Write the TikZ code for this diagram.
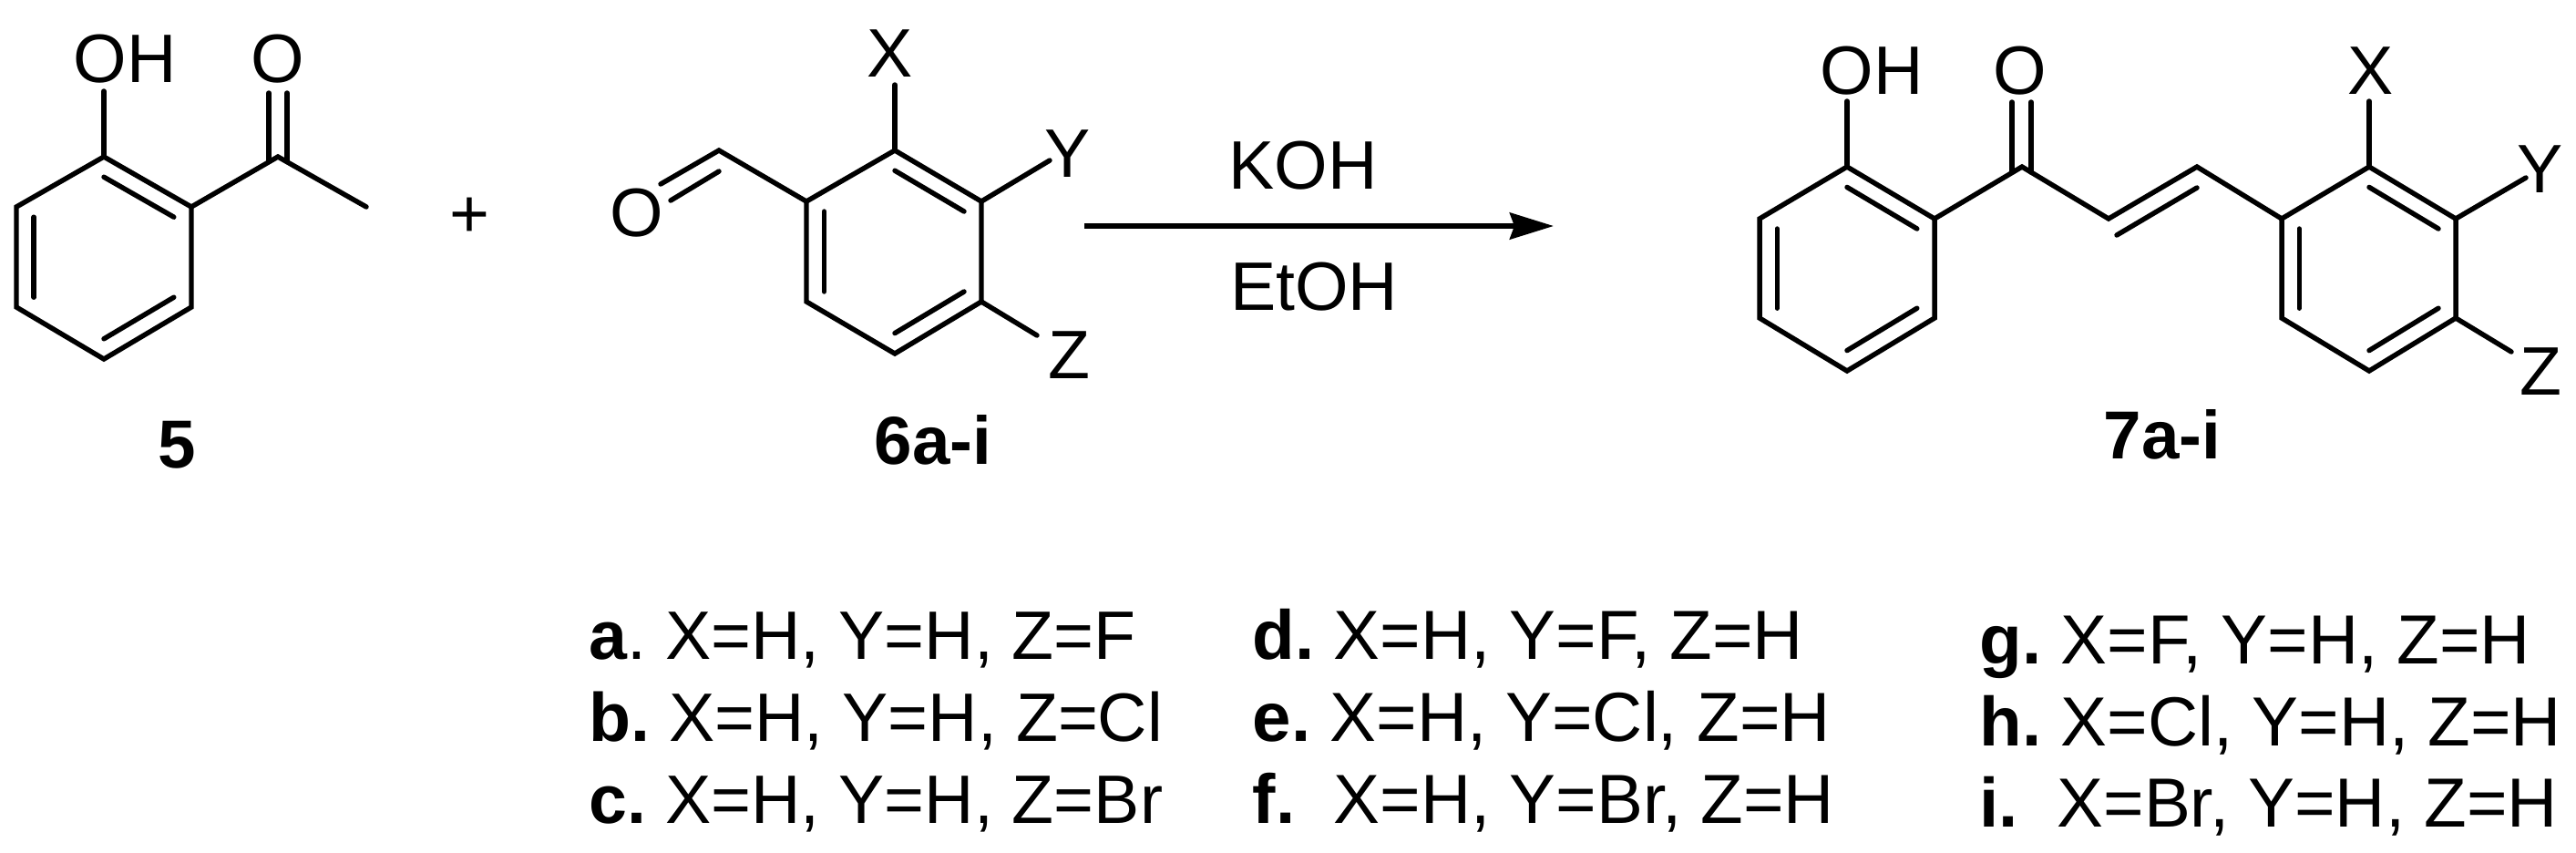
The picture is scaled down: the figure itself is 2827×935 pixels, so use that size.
\documentclass[tikz,border=0pt]{standalone}
\usepackage{fontspec}
\setmainfont{Liberation Sans}
\usetikzlibrary{calc,arrows.meta}
\frenchspacing
\tikzset{
  bond/.style={line width=1.55pt,line cap=round,line join=miter},
  atom/.style={anchor=base,inner sep=0pt,font=\fontsize{21.4}{26}\selectfont},
  cmpd/.style={atom,font=\fontsize{21.2}{26}\selectfont\bfseries},
  entry/.style={anchor=base west,inner sep=0pt,font=\fontsize{21.4}{26}\selectfont},
  entrywide/.style={entry,font=\fontsize{21.7}{26}\selectfont},
  rxnarrow/.style={line width=1.7pt,-{Stealth[length=0.48cm,width=0.29cm,inset=0.05cm]}}
}
\begin{document}
\begin{tikzpicture}
[x=0.01cm,y=-0.01cm]
\useasboundingbox (0,0) rectangle (2827,935);

% ketone 5
\coordinate (ra) at (114,172);
\coordinate (rb) at (210,227);
\coordinate (rc) at (210,337);
\coordinate (rd) at (114,394);
\coordinate (re) at (18,337);
\coordinate (rf) at (18,227);
\coordinate (ro) at (114,283);
\coordinate (aco) at (305,172);
\coordinate (ame) at (402,227);
\coordinate (aol) at (295,102);
\coordinate (aolb) at (295,177);
\coordinate (aor) at (315,102);
\coordinate (aorb) at (315,177);
\coordinate (aoh) at (114,100);
\draw[bond] (ra) -- (rb) -- (rc) -- (rd) -- (re) -- (rf) -- cycle;
\draw[bond] (rb) -- (aco) -- (ame);
\draw[bond] (ra) -- (aoh);
\draw[bond] (aol) -- (aolb);
\draw[bond] (aor) -- (aorb);
\node[atom] (ohA) at (137,90) {OH};
\node[atom] (oA) at (305,90) {O};
\node[atom] (plus) at (515,260) {+};
\node[cmpd] (five) at (194,513) {5};

% aldehyde 6
\coordinate (sa) at (982,165);
\coordinate (sb) at (1077,221);
\coordinate (sc) at (1077,331);
\coordinate (sd) at (982,388);
\coordinate (se) at (885,331);
\coordinate (sf) at (885,221);
\coordinate (so) at (982,276);
\coordinate (bcho) at (789,165);
\coordinate (bol) at (725,202);
\coordinate (boi) at (789,188);
\coordinate (boj) at (736,220);
\coordinate (bx) at (982,93);
\coordinate (by) at (1152,176);
\coordinate (bz) at (1138,368);
\draw[bond] (sa) -- (sb) -- (sc) -- (sd) -- (se) -- (sf) -- cycle;
\draw[bond] (sf) -- (bcho) -- (bol);
\draw[bond] (boi) -- (boj);
\draw[bond] (sa) -- (bx);
\draw[bond] (sb) -- (by);
\draw[bond] (sc) -- (bz);
\node[atom] (oB) at (699,259) {O};
\node[atom] (xB) at (977,84) {X};
\node[atom] (yB) at (1172,194) {Y};
\node[atom] (zB) at (1173,415) {Z};
\node[cmpd] (six) at (1024,509) {6a-i};

% arrow
\coordinate (arrS) at (1190,248);
\coordinate (arrE) at (1705,248);
\draw[rxnarrow] (arrS) -- (arrE);
\node[atom] (koh) at (1430,207) {KOH};
\node[atom] (etoh) at (1442,340) {EtOH};

% chalcone 7
\coordinate (ta) at (2027,183);
\coordinate (tb) at (2123,240);
\coordinate (tc) at (2123,349);
\coordinate (td) at (2027,407);
\coordinate (te) at (1931,349);
\coordinate (tf) at (1931,240);
\coordinate (to) at (2027,295);
\coordinate (ua) at (2600,183);
\coordinate (ub) at (2695,240);
\coordinate (uc) at (2695,349);
\coordinate (ud) at (2600,407);
\coordinate (ue) at (2504,349);
\coordinate (uf) at (2504,240);
\coordinate (uo) at (2600,295);
\coordinate (cco) at (2219,183);
\coordinate (cal) at (2314,240);
\coordinate (cbe) at (2411,183);
\coordinate (cvi) at (2411,206);
\coordinate (cvj) at (2323,258);
\coordinate (col) at (2208,112);
\coordinate (colb) at (2208,189);
\coordinate (cor) at (2229,112);
\coordinate (corb) at (2229,189);
\coordinate (coh) at (2027,111);
\coordinate (cx) at (2600,111);
\coordinate (cy) at (2772,195);
\coordinate (cz) at (2756,386);
\draw[bond] (ta) -- (tb) -- (tc) -- (td) -- (te) -- (tf) -- cycle;
\draw[bond] (ua) -- (ub) -- (uc) -- (ud) -- (ue) -- (uf) -- cycle;
\draw[bond] (tb) -- (cco) -- (cal) -- (cbe) -- (uf);
\draw[bond] (cvi) -- (cvj);
\draw[bond] (col) -- (colb);
\draw[bond] (cor) -- (corb);
\draw[bond] (ta) -- (coh);
\draw[bond] (ua) -- (cx);
\draw[bond] (ub) -- (cy);
\draw[bond] (uc) -- (cz);
\node[atom] (ohC) at (2054,103) {OH};
\node[atom] (oC) at (2217,103) {O};
\node[atom] (xC) at (2602,103) {X};
\node[atom] (yC) at (2788,211) {Y};
\node[atom] (zC) at (2788,433) {Z};
\node[cmpd] (seven) at (2373,503) {7a-i};

% inner ring bonds
\foreach \ring in {r,s,t,u}
  \foreach \p/\q in {a/b,c/d,e/f}
    \draw[bond] ($(\ring\p)!0.2!(\ring o)$) -- ($(\ring\q)!0.2!(\ring o)$);

% substituents
\node[entry] (la) at (646,723) {\textbf{a}. X=H, Y=H, Z=F};
\node[entry] (lb) at (646,813) {\textbf{b.} X=H, Y=H, Z=Cl};
\node[entry] (lc) at (646,903) {\textbf{c.} X=H, Y=H, Z=Br};
\node[entrywide] (ld) at (1374,723) {\textbf{d.} X=H, Y=F, Z=H};
\node[entrywide] (le) at (1374,813) {\textbf{e.} X=H, Y=Cl, Z=H};
\node[entrywide] (lf) at (1374,903) {\textbf{f.}\ \ X=H, Y=Br, Z=H};
\node[entrywide] (lg) at (2172,728) {\textbf{g.} X=F, Y=H, Z=H};
\node[entrywide] (lh) at (2172,818) {\textbf{h.} X=Cl, Y=H, Z=H};
\node[entrywide] (li) at (2172,907) {\textbf{i.}\ \ X=Br, Y=H, Z=H};
\end{tikzpicture}
\end{document}
